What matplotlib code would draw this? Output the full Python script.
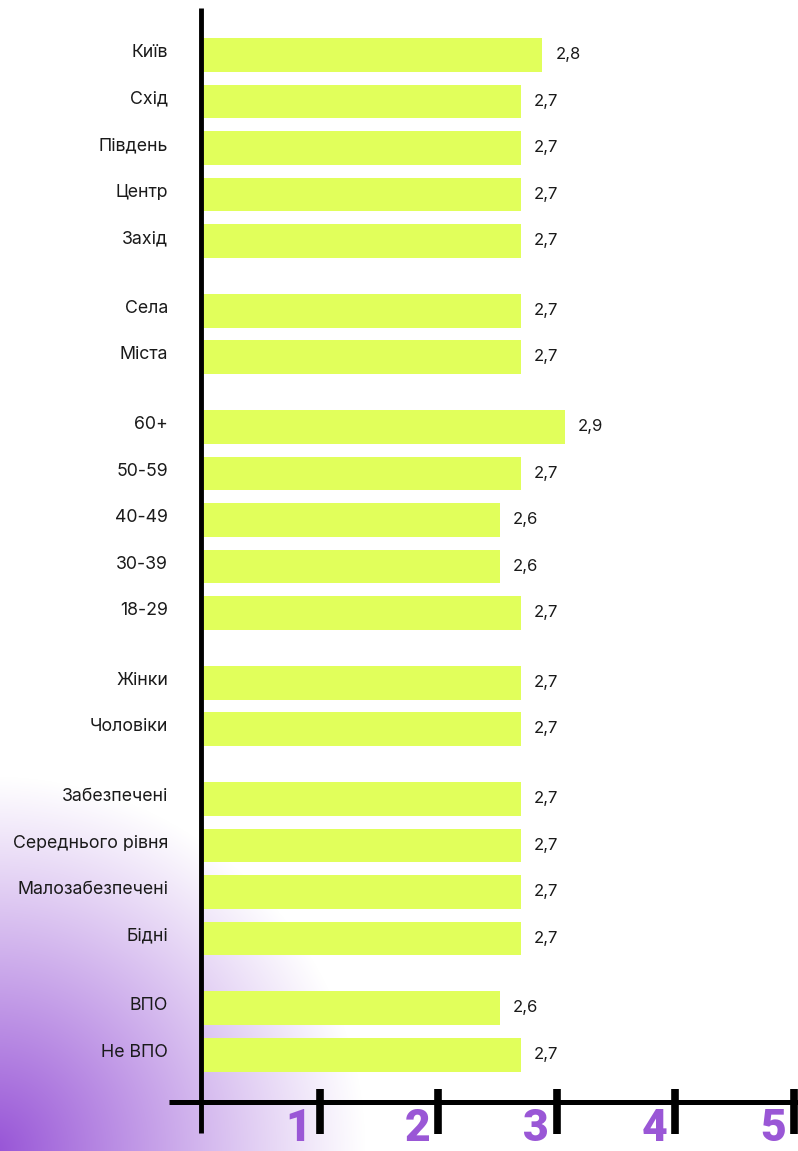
import numpy as np
import matplotlib
matplotlib.use("Agg")
import matplotlib.pyplot as plt

# ---------------- data ----------------
groups = [
    ["Київ", "Схід", "Південь", "Центр", "Захід"],
    ["Села", "Міста"],
    ["60+", "50-59", "40-49", "30-39", "18-29"],
    ["Жінки", "Чоловіки"],
    ["Забезпечені", "Середнього рівня", "Малозабезпечені", "Бідні"],
    ["ВПО", "Не ВПО"],
]
categories = [c for g in groups for c in g]

# bar lengths as drawn, read on the 1–5 axis scale
bar_lengths = [2.88, 2.70, 2.70, 2.70, 2.70,
               2.70, 2.70,
               3.07, 2.70, 2.52, 2.52, 2.70,
               2.70, 2.70,
               2.70, 2.70, 2.70, 2.70,
               2.52, 2.70]
# printed values
value_labels = ["2,8", "2,7", "2,7", "2,7", "2,7",
                "2,7", "2,7",
                "2,9", "2,7", "2,6", "2,6", "2,7",
                "2,7", "2,7",
                "2,7", "2,7", "2,7", "2,7",
                "2,6", "2,7"]
x_ticks = [1, 2, 3, 4, 5]
x_tick_labels = ["1", "2", "3", "4", "5"]

# ---------------- style ----------------
BAR = "#E1FF5B"
PURPLE = "#9A57D6"
TEXT = "#1A1A1A"
LABEL_FONT = ["Inter", "DejaVu Sans"]

W, H = 798, 1151
fig = plt.figure(figsize=(W / 100, H / 100), dpi=100)

# background radial gradient (bottom-left corner)
bg = fig.add_axes([0, 0, 1, 1], zorder=0)
bg.set_axis_off()
yy, xx = np.mgrid[0:H, 0:W]
r = np.hypot(xx + 10.0, (yy - H) * 1.0) / 375.0
a = np.clip(1 - r, 0, 1) ** 1.05
pr, pg, pb = 0x96 / 255, 0x52 / 255, 0xD6 / 255
img = np.ones((H, W, 3))
img[..., 0] = 1 - a * (1 - pr)
img[..., 1] = 1 - a * (1 - pg)
img[..., 2] = 1 - a * (1 - pb)
bg.imshow(img, extent=(0, W, H, 0), aspect="auto", interpolation="bilinear")
bg.set_xlim(0, W)
bg.set_ylim(H, 0)

# main axes
ax = fig.add_axes([0, 0, 1, 1], zorder=1)
ax.set_facecolor("none")
ax.set_axis_off()

# positions: row step 1, extra 0.5 between groups
pos = []
p = 0.0
for gi, g in enumerate(groups):
    if gi > 0:
        p += 0.5
    for _ in g:
        pos.append(p)
        p += 1
pos = np.array(pos)

px_per_unit = 118.5
x0_px = 201
ax.set_xlim(-x0_px / px_per_unit, (W - x0_px) / px_per_unit)
row_px = 46.5
y0_px = 55
ax.set_ylim((H - y0_px) / row_px, -y0_px / row_px)

ax.barh(pos, bar_lengths, height=0.73, color=BAR, zorder=2)

for yp, val, lab, cat in zip(pos, bar_lengths, value_labels, categories):
    ax.text(val + 13 / px_per_unit, yp - 0.01, lab, ha="left", va="center",
            fontsize=12, color=TEXT, family=LABEL_FONT, zorder=3)
    ax.text(-33 / px_per_unit, yp - 0.05, cat, ha="right", va="center",
            fontsize=12.8, color=TEXT, family=LABEL_FONT, zorder=3)

# axis lines
y_top = -47 / row_px
y_axis_bot = (1133 - y0_px) / row_px
x_axis_y = (1102 - y0_px) / row_px
ax.plot([0, 0], [y_top, y_axis_bot], color="black", lw=3.5,
        solid_capstyle="butt", zorder=4, clip_on=False)
ax.plot([-32 / px_per_unit, (W - x0_px) / px_per_unit], [x_axis_y, x_axis_y],
        color="black", lw=3.6, solid_capstyle="butt", zorder=4, clip_on=False)
tick_top = (1089 - y0_px) / row_px
tick_bot = (1134 - y0_px) / row_px
ax.vlines(x_ticks, tick_top, tick_bot, color="black", lw=5.5, zorder=4)

for t, tl in zip(x_ticks, x_tick_labels):
    ax.text(t - 8 / px_per_unit, (H - 1 - y0_px) / row_px, tl, ha="right",
            va="bottom", fontsize=32, fontweight="black", color=PURPLE,
            family=["Roboto", "DejaVu Sans"], zorder=4)

fig.savefig("out.png", dpi=100)
